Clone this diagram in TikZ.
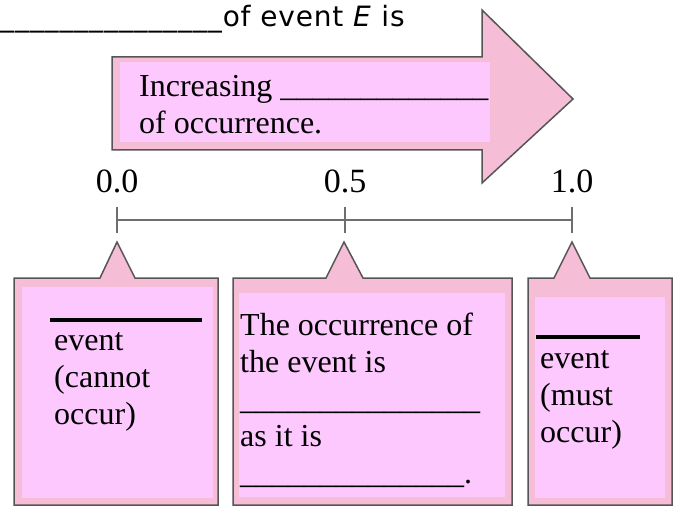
\documentclass[tikz,border=0pt]{standalone}
\usepackage{fontspec}
\setmainfont{Liberation Serif}
\newfontfamily\titlefont[LetterSpace=3]{DejaVu Sans}
\definecolor{outerpink}{HTML}{F5BED6}
\definecolor{innerpink}{HTML}{FDC8FD}
\definecolor{edgegray}{HTML}{555555}
\begin{document}
\begin{tikzpicture}[x=1pt,y=-1pt,
  callout/.style={fill=outerpink,draw=edgegray,line width=1.5pt,line join=miter},
  innerbox/.style={fill=innerpink,draw=none},
  boxtext/.style={anchor=base west,align=left,inner sep=0pt,font=\fontsize{32}{37}\selectfont},
  ticklabel/.style={anchor=base,inner sep=0pt,font=\fontsize{34}{40}\selectfont},
  blankbar/.style={line width=4pt,black}]
\useasboundingbox (0,0) rectangle (680,508);
\node[anchor=base west,inner sep=0pt,font=\titlefont\fontsize{28}{32}\selectfont] (title) at (0,27)
  {\_\_\_\_\_\_\_\_\_\_\_\_\_\_\_of event \textit{E} is};
\draw[callout] (112,57) -- (482,57) -- (482,10) -- (573,99) -- (482,183) -- (482,150) -- (112,150) -- cycle;
\fill[innerbox] (120,62) rectangle (490,142);
% base of a multi-line node is the baseline of its last line
\node[boxtext] (increasing) at (139,134) {Increasing \_\_\_\_\_\_\_\_\_\_\_\_\_\\of occurrence.};
\coordinate (t0) at (117,220);
\coordinate (t5) at (345,220);
\coordinate (t1) at (572,220);
\draw[edgegray!85,line width=2pt] (t0) -- (t1);
\draw[edgegray!85,line width=2pt] (117,207) -- (117,233);
\draw[edgegray!85,line width=2pt] (345,207) -- (345,233);
\draw[edgegray!85,line width=2pt] (572,207) -- (572,233);
\node[ticklabel] (lab0) at (117,193) {0.0};
\node[ticklabel] (lab5) at (345,193) {0.5};
\node[ticklabel] (lab1) at (572,193) {1.0};
\draw[callout] (14,505) -- (14,278) -- (100,278) -- (117,242) -- (135,278) -- (218,278) -- (218,505) -- cycle;
\fill[innerbox] (22,287) rectangle (213,498);
\draw[blankbar] (50,320) -- (202,320);
\node[boxtext] (impossible) at (54,424) {event\\(cannot\\occur)};
\draw[callout] (233,505) -- (233,278) -- (326,278) -- (344,242) -- (363,278) -- (512,278) -- (512,505) -- cycle;
\fill[innerbox] (239,293) rectangle (505,497);
\node[boxtext] (evenchance) at (240,483)
  {The occurrence of\\the event is\\\_\_\_\_\_\_\_\_\_\_\_\_\_\_\_\\as it is\\\_\_\_\_\_\_\_\_\_\_\_\_\_\_.};
\draw[callout] (528,505) -- (528,278) -- (554,278) -- (572,242) -- (590,278) -- (672,278) -- (672,505) -- cycle;
\fill[innerbox] (535,297) rectangle (665,498);
\draw[blankbar] (536,337) -- (640,337);
\node[boxtext] (certain) at (540,442) {event\\(must\\occur)};
\end{tikzpicture}
\end{document}
